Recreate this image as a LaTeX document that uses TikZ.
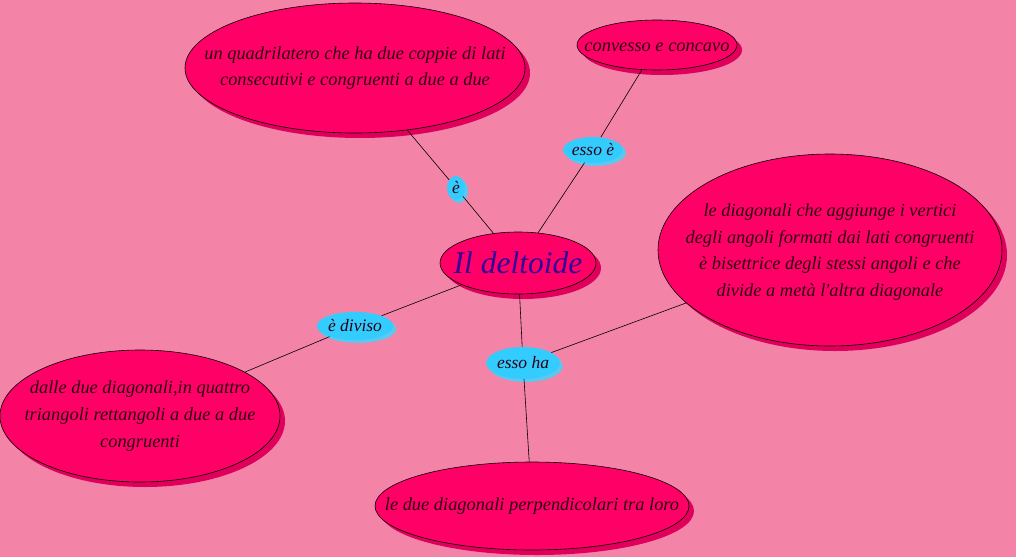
\documentclass[tikz,border=0pt]{standalone}
\usepackage{fontspec}
\setmainfont{Liberation Serif}
\usepackage{tikz}
\usetikzlibrary{shapes.geometric, shadows}
\definecolor{kitebg}{HTML}{F483A8}
\definecolor{kitepink}{HTML}{FF0066}
\definecolor{kiteshade}{HTML}{E0005C}
\definecolor{kitecyan}{HTML}{33CCFF}
\definecolor{kitecyanshade}{HTML}{5CC8F0}
\definecolor{kiteink}{HTML}{2B0012}
\definecolor{kiteindigo}{HTML}{330099}

\begin{document}
\begin{tikzpicture}[x=1pt, y=-1pt,
    concept/.style={ellipse, draw=black, line width=0.6pt, fill=kitepink,
      inner sep=0pt,
      drop shadow={shadow xshift=5pt, shadow yshift=-5pt, fill=kiteshade, opacity=1}},
    words/.style={align=center, text=kiteink,
      font=\fontsize{18.4}{26.8}\selectfont\itshape},
    link/.style={ellipse, fill=kitecyan, inner sep=0pt, text=kiteink,
      font=\fontsize{17.5}{20}\selectfont\itshape,
      drop shadow={shadow xshift=3pt, shadow yshift=-3pt, fill=kitecyanshade, opacity=1}},
    wire/.style={draw=black, line width=0.6pt}]
  \fill[kitebg] (0,0) rectangle (1016,557);
  \useasboundingbox (0,0) rectangle (1016,557);

  % concepts
  \node[concept, minimum width=340pt, minimum height=130pt] (quad) at (355,68) {};
  \node[words] at (quad.center)
    {un quadrilatero che ha due coppie di lati\\consecutivi e congruenti a due a due};
  \node[concept, minimum width=160pt, minimum height=50pt] (conv) at (657,45) {};
  \node[words] at ([yshift=-2pt]conv.center) {convesso e concavo};
  \node[concept, minimum width=156pt, minimum height=62pt] (delt) at (518,263) {};
  \node[words, text=kiteindigo, font=\fontsize{31.5}{32}\selectfont\itshape]
    at (delt.center) {Il deltoide};
  \node[concept, minimum width=344pt, minimum height=192pt] (diag) at (830,250) {};
  \node[words] at ([yshift=-2pt]diag.center)
    {le diagonali che aggiunge i vertici\\degli angoli formati dai lati congruenti\\
     è bisettrice degli stessi angoli e che\\divide a metà l\textquotesingle altra diagonale};
  \node[concept, minimum width=280pt, minimum height=132pt] (tri) at (140,416) {};
  \node[words] at (tri.center)
    {dalle due diagonali,in quattro\\triangoli rettangoli a due a due\\congruenti};
  \node[concept, minimum width=314pt, minimum height=88pt] (perp) at (532,506) {};
  \node[words] at (perp.center) {le due diagonali perpendicolari tra loro};

  % linking phrases
  \node[link, minimum width=18pt, minimum height=24pt] (isa) at (456,188) {è};
  \node[link, minimum width=56pt, minimum height=26pt] (itis) at (593,150) {esso è};
  \node[link, minimum width=66pt, minimum height=28pt] (split) at (355,326) {è diviso};
  \node[link, minimum width=64pt, minimum height=32pt] (has) at (523,363) {esso ha};

  % connectors
  \draw[wire] (quad) -- (isa);
  \draw[wire] (isa) -- (delt);
  \draw[wire] (conv) -- (itis);
  \draw[wire] (itis) -- (delt);
  \draw[wire] (delt) -- (split);
  \draw[wire] (split) -- (tri);
  \draw[wire] (delt) -- (has);
  \draw[wire] (has) -- (diag);
  \draw[wire] (has) -- (perp);
\end{tikzpicture}
\end{document}
